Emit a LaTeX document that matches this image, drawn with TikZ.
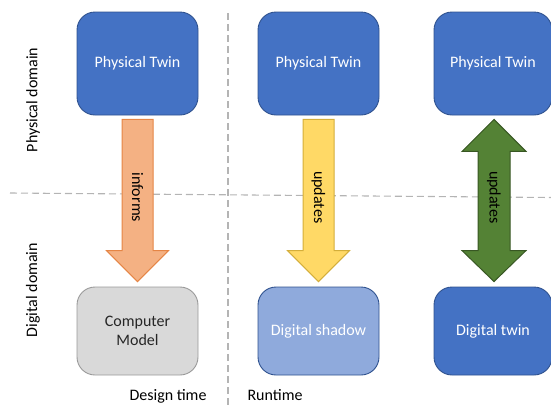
\documentclass[tikz,border=0pt]{standalone}
\usepackage{fontspec}
\setmainfont{Carlito}
\usetikzlibrary{calc}

\definecolor{twinblue}{HTML}{4472C4}
\definecolor{twinedge}{HTML}{2F528F}
\definecolor{shadowblue}{HTML}{8FAADC}
\definecolor{modelgray}{HTML}{D9D9D9}
\definecolor{modeledge}{HTML}{9A9A9A}
\definecolor{infofill}{HTML}{F4B183}
\definecolor{infoedge}{HTML}{E58545}
\definecolor{updfill}{HTML}{FFD966}
\definecolor{updedge}{HTML}{D4AE3A}
\definecolor{syncfill}{HTML}{548235}
\definecolor{syncedge}{HTML}{385723}
\definecolor{guide}{HTML}{B4B4B4}

\tikzset{
  box/.style={draw=twinedge, line width=0.9pt, rounded corners=18pt,
    minimum width=121pt, inner sep=0pt, align=center,
    font=\fontsize{16}{19.5}\selectfont},
  twinbox/.style={box, fill=twinblue, text=white},
  shadowbox/.style={box, fill=shadowblue, text=white},
  modelbox/.style={box, fill=modelgray, draw=modeledge, text=black!85},
  toprow/.style={minimum height=103pt},
  botrow/.style={minimum height=88pt},
  blockarrow/.style={line width=1pt, line join=miter},
  arrowtext/.style={rotate=-90, font=\fontsize{16}{19.5}\selectfont, text=black},
  guideline/.style={draw=guide, line width=1.1pt, dash pattern=on 7pt off 4pt},
  sidelabel/.style={font=\fontsize{16}{19.5}\selectfont, text=black}
}

\begin{document}
\begin{tikzpicture}[x=1pt, y=-1pt]
  \useasboundingbox (0,0) rectangle (551,405);

  % domain and phase separators
  \coordinate (hl) at (10,193);
  \coordinate (hr) at (551,197.5);
  \coordinate (vt) at (228,13);
  \coordinate (vb) at (228,405);
  \draw[guideline] (hl) -- (hr);
  \draw[guideline] (vt) -- (vb);

  % physical twins
  \node[twinbox, toprow] (pt1) at (137.5,63.5) {Physical Twin};
  \node[twinbox, toprow] (pt2) at (318.5,63.5) {Physical Twin};
  \node[twinbox, toprow, minimum width=118pt] (pt3) at (493,63.5) {Physical Twin};

  % digital counterparts
  \node[modelbox, botrow] (dm1) at (137.5,331) {Computer\\Model};
  \node[shadowbox, botrow] (dm2) at (318.5,331) {Digital shadow};
  \node[twinbox, botrow, minimum width=118pt] (dm3) at (493,331) {Digital twin};

  % arrow end points
  \coordinate (a1s) at ($(pt1.south)+(0,4)$);
  \coordinate (a1e) at ($(dm1.north)+(0,-5)$);
  \coordinate (a2s) at ($(pt2.south)+(0,4)$);
  \coordinate (a2e) at ($(dm2.north)+(0,-5)$);
  \coordinate (a3s) at ($(pt3.south)+(1,4)$);
  \coordinate (a3e) at ($(dm3.north)+(1,-5)$);

  % informs: one-way block arrow
  \draw[blockarrow, fill=infofill, draw=infoedge]
    let \p1=(a1s), \p2=(a1e) in
    (\x1-15.5pt,\y1) -- (\x1+15.5pt,\y1) -- (\x1+15.5pt,\y2+31pt)
    -- (\x1+31pt,\y2+31pt) -- (\x2,\y2) -- (\x1-31pt,\y2+31pt)
    -- (\x1-15.5pt,\y2+31pt) -- cycle;
  \node[arrowtext] (t1) at ($(a1s)!0.48!(a1e)$) {informs};

  % updates: one-way block arrow
  \draw[blockarrow, fill=updfill, draw=updedge]
    let \p1=(a2s), \p2=(a2e) in
    (\x1-15.5pt,\y1) -- (\x1+15.5pt,\y1) -- (\x1+15.5pt,\y2+31pt)
    -- (\x1+31pt,\y2+31pt) -- (\x2,\y2) -- (\x1-31pt,\y2+31pt)
    -- (\x1-15.5pt,\y2+31pt) -- cycle;
  \node[arrowtext] (t2) at ($(a2s)!0.48!(a2e)$) {updates};

  % updates: two-way block arrow
  \draw[blockarrow, fill=syncfill, draw=syncedge]
    let \p1=(a3s), \p2=(a3e) in
    (\x1,\y1) -- (\x1+32pt,\y1-32pt) -- (\x1+16pt,\y1-32pt)
    -- (\x1+16pt,\y2+31pt) -- (\x1+32pt,\y2+31pt) -- (\x2,\y2)
    -- (\x1-32pt,\y2+31pt) -- (\x1-16pt,\y2+31pt)
    -- (\x1-16pt,\y1-32pt) -- (\x1-32pt,\y1-32pt) -- cycle;
  \node[arrowtext] (t3) at ($(a3s)!0.48!(a3e)$) {updates};

  % axis labels
  \node[sidelabel, rotate=90] (ld1) at (33,100) {Physical domain};
  \node[sidelabel, rotate=90] (ld2) at (33,290) {Digital domain};
  \node[sidelabel, anchor=base] (lp1) at (168,400.5) {Design time};
  \node[sidelabel, anchor=base] (lp2) at (275,400.5) {Runtime};
\end{tikzpicture}
\end{document}
